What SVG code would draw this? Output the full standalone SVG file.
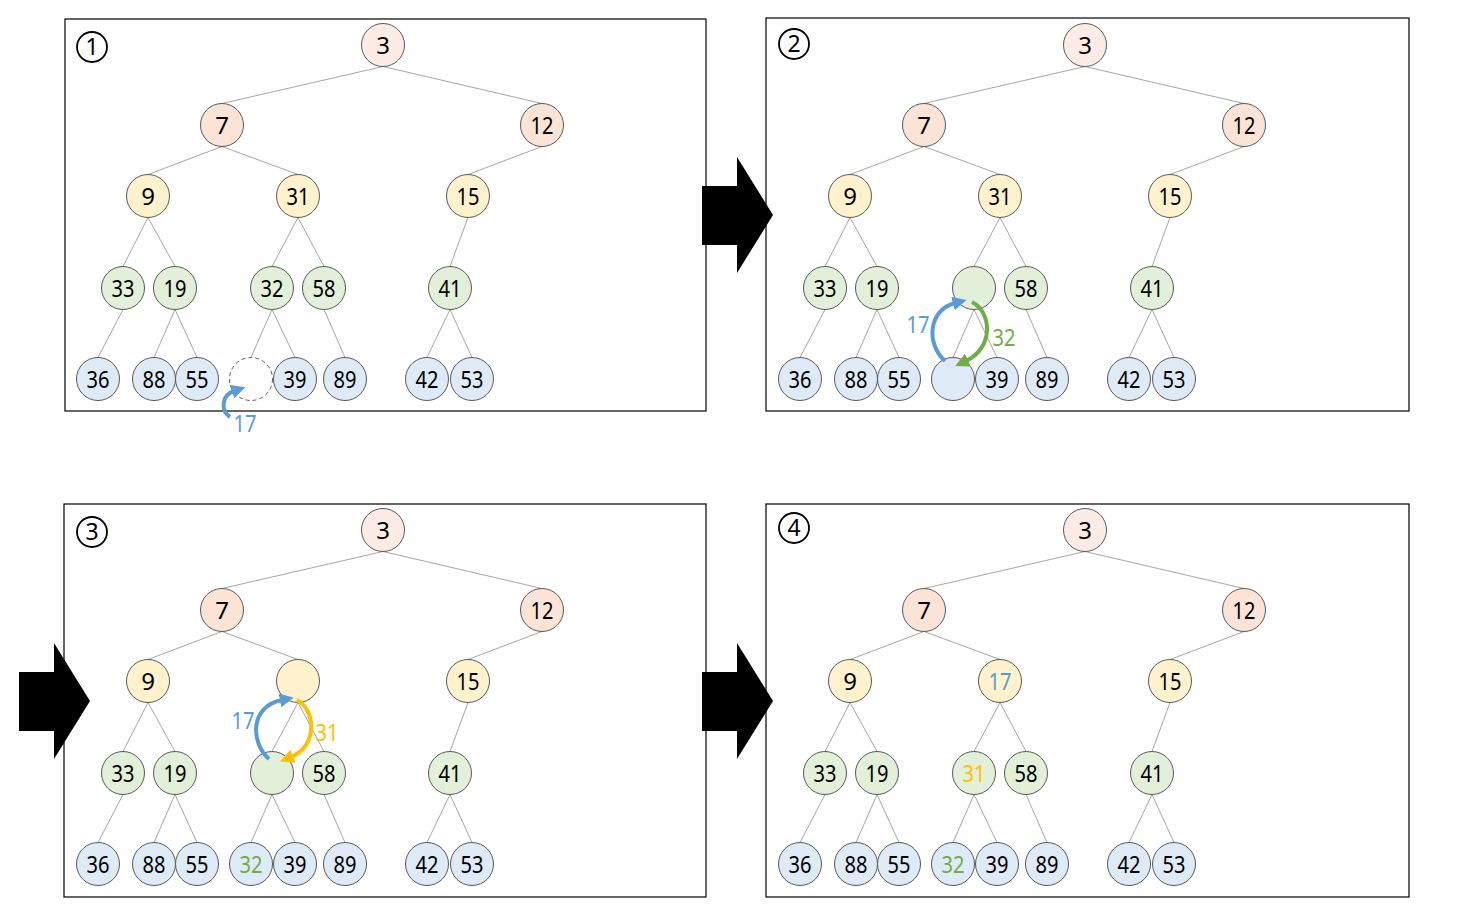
<svg xmlns="http://www.w3.org/2000/svg" width="1472" height="916" viewBox="0 0 1472 916">
<style>
.frame{fill:none;stroke:#000;stroke-width:1.2}
.edge{fill:none;stroke:#a6a6a6;stroke-width:1}
.n circle{stroke:#595959;stroke-width:1}
.pk0{fill:#fdece6}.pk{fill:#fbe4d5}.yl{fill:#fff2cc}.gr{fill:#e2f0d9}.bl{fill:#deebf7}
.dash{fill:#fff;stroke:#595959;stroke-dasharray:4 3}
text{font-family:"Noto Sans","Open Sans","DejaVu Sans",sans-serif;font-size:24px;text-anchor:middle}
.num circle{fill:none;stroke:#000;stroke-width:1.8}
.num text{font-size:23px}
.big{fill:#000}
.sw{fill:none;stroke-width:4}
</style>
<defs>
<marker id="mb" viewBox="0 0 10 10" refX="1.5" refY="5" markerWidth="14" markerHeight="14" markerUnits="userSpaceOnUse" orient="auto"><path d="M0,0 L10,5 L0,10 z" fill="#5b9bd5"/></marker>
<marker id="mg" viewBox="0 0 10 10" refX="1.5" refY="5" markerWidth="14" markerHeight="14" markerUnits="userSpaceOnUse" orient="auto"><path d="M0,0 L10,5 L0,10 z" fill="#70ad47"/></marker>
<marker id="my" viewBox="0 0 10 10" refX="1.5" refY="5" markerWidth="14" markerHeight="14" markerUnits="userSpaceOnUse" orient="auto"><path d="M0,0 L10,5 L0,10 z" fill="#ffc000"/></marker>
</defs>

<rect class="frame" x="65" y="19" width="641" height="392"/>
<rect class="frame" x="766" y="18" width="643" height="393"/>
<rect class="frame" x="64" y="504" width="642" height="393"/>
<rect class="frame" x="766" y="504" width="643" height="393"/>

<g id="connectors">
<path id="edges1" class="edge" d="M383,66.5L222,103.5M383,66.5L542,103.5M222,146.5L148,174.5M222,146.5L298,174.5M542,146.5L468,174.5M148,217.5L123,266.5M148,217.5L175,266.5M298,217.5L272,266.5M298,217.5L324,266.5M468,217.5L450,266.5M123,309.5L98,357.5M175,309.5L154,357.5M175,309.5L197,357.5M272,309.5L251,357.5M272,309.5L295,357.5M324,309.5L345,357.5M450,309.5L427,357.5M450,309.5L472,357.5"/>
<path id="edges2" class="edge" transform="translate(702,0)" d="M383,66.5L222,103.5M383,66.5L542,103.5M222,146.5L148,174.5M222,146.5L298,174.5M542,146.5L468,174.5M148,217.5L123,266.5M148,217.5L175,266.5M298,217.5L272,266.5M298,217.5L324,266.5M468,217.5L450,266.5M123,309.5L98,357.5M175,309.5L154,357.5M175,309.5L197,357.5M272,309.5L251,357.5M272,309.5L295,357.5M324,309.5L345,357.5M450,309.5L427,357.5M450,309.5L472,357.5"/>
<path id="edges3" class="edge" transform="translate(0,485)" d="M383,66.5L222,103.5M383,66.5L542,103.5M222,146.5L148,174.5M222,146.5L298,174.5M542,146.5L468,174.5M148,217.5L123,266.5M148,217.5L175,266.5M298,217.5L272,266.5M298,217.5L324,266.5M468,217.5L450,266.5M123,309.5L98,357.5M175,309.5L154,357.5M175,309.5L197,357.5M272,309.5L251,357.5M272,309.5L295,357.5M324,309.5L345,357.5M450,309.5L427,357.5M450,309.5L472,357.5"/>
<path id="edges4" class="edge" transform="translate(702,485)" d="M383,66.5L222,103.5M383,66.5L542,103.5M222,146.5L148,174.5M222,146.5L298,174.5M542,146.5L468,174.5M148,217.5L123,266.5M148,217.5L175,266.5M298,217.5L272,266.5M298,217.5L324,266.5M468,217.5L450,266.5M123,309.5L98,357.5M175,309.5L154,357.5M175,309.5L197,357.5M272,309.5L251,357.5M272,309.5L295,357.5M324,309.5L345,357.5M450,309.5L427,357.5M450,309.5L472,357.5"/>
</g>

<!-- Panel 1 -->
<g id="panel1">
<g id="p1-num" class="num"><circle cx="92" cy="47" r="15"/><text x="92" y="55">1</text></g>
<g id="p1-n3" class="n"><circle class="pk0" cx="383" cy="45" r="21.5"/><text x="383" y="53.5">3</text></g>
<g id="p1-n7" class="n"><circle class="pk" cx="222" cy="125" r="21.5"/><text x="222" y="133.5">7</text></g>
<g id="p1-n12" class="n"><circle class="pk" cx="542" cy="125" r="21.5"/><text x="542" y="133.5" textLength="23" lengthAdjust="spacingAndGlyphs">12</text></g>
<g id="p1-n9" class="n"><circle class="yl" cx="148" cy="196" r="21.5"/><text x="148" y="204.5">9</text></g>
<g id="p1-n31" class="n"><circle class="yl" cx="298" cy="196" r="21.5"/><text x="298" y="204.5" textLength="23" lengthAdjust="spacingAndGlyphs">31</text></g>
<g id="p1-n15" class="n"><circle class="yl" cx="468" cy="196" r="21.5"/><text x="468" y="204.5" textLength="23" lengthAdjust="spacingAndGlyphs">15</text></g>
<g id="p1-n33" class="n"><circle class="gr" cx="123" cy="288" r="21.5"/><text x="123" y="296.5" textLength="23" lengthAdjust="spacingAndGlyphs">33</text></g>
<g id="p1-n19" class="n"><circle class="gr" cx="175" cy="288" r="21.5"/><text x="175" y="296.5" textLength="23" lengthAdjust="spacingAndGlyphs">19</text></g>
<g id="p1-n32" class="n"><circle class="gr" cx="272" cy="288" r="21.5"/><text x="272" y="296.5" textLength="23" lengthAdjust="spacingAndGlyphs">32</text></g>
<g id="p1-n58" class="n"><circle class="gr" cx="324" cy="288" r="21.5"/><text x="324" y="296.5" textLength="23" lengthAdjust="spacingAndGlyphs">58</text></g>
<g id="p1-n41" class="n"><circle class="gr" cx="450" cy="288" r="21.5"/><text x="450" y="296.5" textLength="23" lengthAdjust="spacingAndGlyphs">41</text></g>
<g id="p1-n36" class="n"><circle class="bl" cx="98" cy="379" r="21.5"/><text x="98" y="387.5" textLength="23" lengthAdjust="spacingAndGlyphs">36</text></g>
<g id="p1-n88" class="n"><circle class="bl" cx="154" cy="379" r="21.5"/><text x="154" y="387.5" textLength="23" lengthAdjust="spacingAndGlyphs">88</text></g>
<g id="p1-n55" class="n"><circle class="bl" cx="197" cy="379" r="21.5"/><text x="197" y="387.5" textLength="23" lengthAdjust="spacingAndGlyphs">55</text></g>
<g id="p1-empty"><circle class="dash" cx="251" cy="379" r="21.5"/></g>
<g id="p1-n39" class="n"><circle class="bl" cx="295" cy="379" r="21.5"/><text x="295" y="387.5" textLength="23" lengthAdjust="spacingAndGlyphs">39</text></g>
<g id="p1-n89" class="n"><circle class="bl" cx="345" cy="379" r="21.5"/><text x="345" y="387.5" textLength="23" lengthAdjust="spacingAndGlyphs">89</text></g>
<g id="p1-n42" class="n"><circle class="bl" cx="427" cy="379" r="21.5"/><text x="427" y="387.5" textLength="23" lengthAdjust="spacingAndGlyphs">42</text></g>
<g id="p1-n53" class="n"><circle class="bl" cx="472" cy="379" r="21.5"/><text x="472" y="387.5" textLength="23" lengthAdjust="spacingAndGlyphs">53</text></g>
<g id="p1-insert">
<path class="sw" stroke="#5b9bd5" marker-end="url(#mb)" d="M230,417 C220,410 222,395 234,391"/>
<text x="245" y="432" fill="#5b9bd5" textLength="23" lengthAdjust="spacingAndGlyphs">17</text>
</g>
</g>

<!-- Panel 2 -->
<g id="panel2" transform="translate(702,0)">
<g id="p2-num" class="num"><circle cx="92" cy="44" r="15"/><text x="92" y="52">2</text></g>
<g id="p2-n3" class="n"><circle class="pk0" cx="383" cy="45" r="21.5"/><text x="383" y="53.5">3</text></g>
<g id="p2-n7" class="n"><circle class="pk" cx="222" cy="125" r="21.5"/><text x="222" y="133.5">7</text></g>
<g id="p2-n12" class="n"><circle class="pk" cx="542" cy="125" r="21.5"/><text x="542" y="133.5" textLength="23" lengthAdjust="spacingAndGlyphs">12</text></g>
<g id="p2-n9" class="n"><circle class="yl" cx="148" cy="196" r="21.5"/><text x="148" y="204.5">9</text></g>
<g id="p2-n31" class="n"><circle class="yl" cx="298" cy="196" r="21.5"/><text x="298" y="204.5" textLength="23" lengthAdjust="spacingAndGlyphs">31</text></g>
<g id="p2-n15" class="n"><circle class="yl" cx="468" cy="196" r="21.5"/><text x="468" y="204.5" textLength="23" lengthAdjust="spacingAndGlyphs">15</text></g>
<g id="p2-n33" class="n"><circle class="gr" cx="123" cy="288" r="21.5"/><text x="123" y="296.5" textLength="23" lengthAdjust="spacingAndGlyphs">33</text></g>
<g id="p2-n19" class="n"><circle class="gr" cx="175" cy="288" r="21.5"/><text x="175" y="296.5" textLength="23" lengthAdjust="spacingAndGlyphs">19</text></g>
<g id="p2-nA" class="n"><circle class="gr" cx="272" cy="288" r="21.5"/></g>
<g id="p2-n58" class="n"><circle class="gr" cx="324" cy="288" r="21.5"/><text x="324" y="296.5" textLength="23" lengthAdjust="spacingAndGlyphs">58</text></g>
<g id="p2-n41" class="n"><circle class="gr" cx="450" cy="288" r="21.5"/><text x="450" y="296.5" textLength="23" lengthAdjust="spacingAndGlyphs">41</text></g>
<g id="p2-n36" class="n"><circle class="bl" cx="98" cy="379" r="21.5"/><text x="98" y="387.5" textLength="23" lengthAdjust="spacingAndGlyphs">36</text></g>
<g id="p2-n88" class="n"><circle class="bl" cx="154" cy="379" r="21.5"/><text x="154" y="387.5" textLength="23" lengthAdjust="spacingAndGlyphs">88</text></g>
<g id="p2-n55" class="n"><circle class="bl" cx="197" cy="379" r="21.5"/><text x="197" y="387.5" textLength="23" lengthAdjust="spacingAndGlyphs">55</text></g>
<g id="p2-nB" class="n"><circle class="bl" cx="251" cy="379" r="21.5"/></g>
<g id="p2-n39" class="n"><circle class="bl" cx="295" cy="379" r="21.5"/><text x="295" y="387.5" textLength="23" lengthAdjust="spacingAndGlyphs">39</text></g>
<g id="p2-n89" class="n"><circle class="bl" cx="345" cy="379" r="21.5"/><text x="345" y="387.5" textLength="23" lengthAdjust="spacingAndGlyphs">89</text></g>
<g id="p2-n42" class="n"><circle class="bl" cx="427" cy="379" r="21.5"/><text x="427" y="387.5" textLength="23" lengthAdjust="spacingAndGlyphs">42</text></g>
<g id="p2-n53" class="n"><circle class="bl" cx="472" cy="379" r="21.5"/><text x="472" y="387.5" textLength="23" lengthAdjust="spacingAndGlyphs">53</text></g>
<g id="p2-swap">
<path class="sw" stroke="#5b9bd5" marker-end="url(#mb)" d="M243,361 C224,344 226,310 253,303"/>
<path class="sw" stroke="#70ad47" marker-end="url(#mg)" d="M270,302 C290,312 292,348 264,361"/>
<text x="216" y="333" fill="#5b9bd5" textLength="23" lengthAdjust="spacingAndGlyphs">17</text>
<text x="302" y="346" fill="#70ad47" textLength="23" lengthAdjust="spacingAndGlyphs">32</text>
</g>
</g>

<!-- Panel 3 -->
<g id="panel3" transform="translate(0,485)">
<g id="p3-num" class="num"><circle cx="92" cy="47" r="15"/><text x="92" y="55">3</text></g>
<g id="p3-n3" class="n"><circle class="pk0" cx="383" cy="45" r="21.5"/><text x="383" y="53.5">3</text></g>
<g id="p3-n7" class="n"><circle class="pk" cx="222" cy="125" r="21.5"/><text x="222" y="133.5">7</text></g>
<g id="p3-n12" class="n"><circle class="pk" cx="542" cy="125" r="21.5"/><text x="542" y="133.5" textLength="23" lengthAdjust="spacingAndGlyphs">12</text></g>
<g id="p3-n9" class="n"><circle class="yl" cx="148" cy="196" r="21.5"/><text x="148" y="204.5">9</text></g>
<g id="p3-nA" class="n"><circle class="yl" cx="298" cy="196" r="21.5"/></g>
<g id="p3-n15" class="n"><circle class="yl" cx="468" cy="196" r="21.5"/><text x="468" y="204.5" textLength="23" lengthAdjust="spacingAndGlyphs">15</text></g>
<g id="p3-n33" class="n"><circle class="gr" cx="123" cy="288" r="21.5"/><text x="123" y="296.5" textLength="23" lengthAdjust="spacingAndGlyphs">33</text></g>
<g id="p3-n19" class="n"><circle class="gr" cx="175" cy="288" r="21.5"/><text x="175" y="296.5" textLength="23" lengthAdjust="spacingAndGlyphs">19</text></g>
<g id="p3-nB" class="n"><circle class="gr" cx="272" cy="288" r="21.5"/></g>
<g id="p3-n58" class="n"><circle class="gr" cx="324" cy="288" r="21.5"/><text x="324" y="296.5" textLength="23" lengthAdjust="spacingAndGlyphs">58</text></g>
<g id="p3-n41" class="n"><circle class="gr" cx="450" cy="288" r="21.5"/><text x="450" y="296.5" textLength="23" lengthAdjust="spacingAndGlyphs">41</text></g>
<g id="p3-n36" class="n"><circle class="bl" cx="98" cy="379" r="21.5"/><text x="98" y="387.5" textLength="23" lengthAdjust="spacingAndGlyphs">36</text></g>
<g id="p3-n88" class="n"><circle class="bl" cx="154" cy="379" r="21.5"/><text x="154" y="387.5" textLength="23" lengthAdjust="spacingAndGlyphs">88</text></g>
<g id="p3-n55" class="n"><circle class="bl" cx="197" cy="379" r="21.5"/><text x="197" y="387.5" textLength="23" lengthAdjust="spacingAndGlyphs">55</text></g>
<g id="p3-n32" class="n"><circle class="bl" cx="251" cy="379" r="21.5"/><text x="251" y="387.5" fill="#70ad47" textLength="23" lengthAdjust="spacingAndGlyphs">32</text></g>
<g id="p3-n39" class="n"><circle class="bl" cx="295" cy="379" r="21.5"/><text x="295" y="387.5" textLength="23" lengthAdjust="spacingAndGlyphs">39</text></g>
<g id="p3-n89" class="n"><circle class="bl" cx="345" cy="379" r="21.5"/><text x="345" y="387.5" textLength="23" lengthAdjust="spacingAndGlyphs">89</text></g>
<g id="p3-n42" class="n"><circle class="bl" cx="427" cy="379" r="21.5"/><text x="427" y="387.5" textLength="23" lengthAdjust="spacingAndGlyphs">42</text></g>
<g id="p3-n53" class="n"><circle class="bl" cx="472" cy="379" r="21.5"/><text x="472" y="387.5" textLength="23" lengthAdjust="spacingAndGlyphs">53</text></g>
<g id="p3-swap">
<path class="sw" stroke="#5b9bd5" marker-end="url(#mb)" d="M269,274 C250,257 250,221 282,215"/>
<path class="sw" stroke="#ffc000" marker-end="url(#my)" d="M297,215 C316,225 318,261 291,272"/>
<text x="243" y="244" fill="#5b9bd5" textLength="23" lengthAdjust="spacingAndGlyphs">17</text>
<text x="327" y="256" fill="#ffc000" textLength="23" lengthAdjust="spacingAndGlyphs">31</text>
</g>
</g>

<!-- Panel 4 -->
<g id="panel4" transform="translate(702,485)">
<g id="p4-num" class="num"><circle cx="92" cy="43" r="15"/><text x="92" y="51">4</text></g>
<g id="p4-n3" class="n"><circle class="pk0" cx="383" cy="45" r="21.5"/><text x="383" y="53.5">3</text></g>
<g id="p4-n7" class="n"><circle class="pk" cx="222" cy="125" r="21.5"/><text x="222" y="133.5">7</text></g>
<g id="p4-n12" class="n"><circle class="pk" cx="542" cy="125" r="21.5"/><text x="542" y="133.5" textLength="23" lengthAdjust="spacingAndGlyphs">12</text></g>
<g id="p4-n9" class="n"><circle class="yl" cx="148" cy="196" r="21.5"/><text x="148" y="204.5">9</text></g>
<g id="p4-n17" class="n"><circle class="yl" cx="298" cy="196" r="21.5"/><text x="298" y="204.5" fill="#5b9bd5" textLength="23" lengthAdjust="spacingAndGlyphs">17</text></g>
<g id="p4-n15" class="n"><circle class="yl" cx="468" cy="196" r="21.5"/><text x="468" y="204.5" textLength="23" lengthAdjust="spacingAndGlyphs">15</text></g>
<g id="p4-n33" class="n"><circle class="gr" cx="123" cy="288" r="21.5"/><text x="123" y="296.5" textLength="23" lengthAdjust="spacingAndGlyphs">33</text></g>
<g id="p4-n19" class="n"><circle class="gr" cx="175" cy="288" r="21.5"/><text x="175" y="296.5" textLength="23" lengthAdjust="spacingAndGlyphs">19</text></g>
<g id="p4-n31" class="n"><circle class="gr" cx="272" cy="288" r="21.5"/><text x="272" y="296.5" fill="#ffc000" textLength="23" lengthAdjust="spacingAndGlyphs">31</text></g>
<g id="p4-n58" class="n"><circle class="gr" cx="324" cy="288" r="21.5"/><text x="324" y="296.5" textLength="23" lengthAdjust="spacingAndGlyphs">58</text></g>
<g id="p4-n41" class="n"><circle class="gr" cx="450" cy="288" r="21.5"/><text x="450" y="296.5" textLength="23" lengthAdjust="spacingAndGlyphs">41</text></g>
<g id="p4-n36" class="n"><circle class="bl" cx="98" cy="379" r="21.5"/><text x="98" y="387.5" textLength="23" lengthAdjust="spacingAndGlyphs">36</text></g>
<g id="p4-n88" class="n"><circle class="bl" cx="154" cy="379" r="21.5"/><text x="154" y="387.5" textLength="23" lengthAdjust="spacingAndGlyphs">88</text></g>
<g id="p4-n55" class="n"><circle class="bl" cx="197" cy="379" r="21.5"/><text x="197" y="387.5" textLength="23" lengthAdjust="spacingAndGlyphs">55</text></g>
<g id="p4-n32" class="n"><circle class="bl" cx="251" cy="379" r="21.5"/><text x="251" y="387.5" fill="#70ad47" textLength="23" lengthAdjust="spacingAndGlyphs">32</text></g>
<g id="p4-n39" class="n"><circle class="bl" cx="295" cy="379" r="21.5"/><text x="295" y="387.5" textLength="23" lengthAdjust="spacingAndGlyphs">39</text></g>
<g id="p4-n89" class="n"><circle class="bl" cx="345" cy="379" r="21.5"/><text x="345" y="387.5" textLength="23" lengthAdjust="spacingAndGlyphs">89</text></g>
<g id="p4-n42" class="n"><circle class="bl" cx="427" cy="379" r="21.5"/><text x="427" y="387.5" textLength="23" lengthAdjust="spacingAndGlyphs">42</text></g>
<g id="p4-n53" class="n"><circle class="bl" cx="472" cy="379" r="21.5"/><text x="472" y="387.5" textLength="23" lengthAdjust="spacingAndGlyphs">53</text></g>
</g>

<g id="step-arrows">
<polygon class="big" points="702,186 737,186 737,157 773,215 737,273 737,245 702,245"/>
<polygon class="big" points="19,672 54,672 54,643 90,701 54,759 54,731 19,731"/>
<polygon class="big" points="702,672 737,672 737,643 773,701 737,759 737,731 702,731"/>
</g>
</svg>
